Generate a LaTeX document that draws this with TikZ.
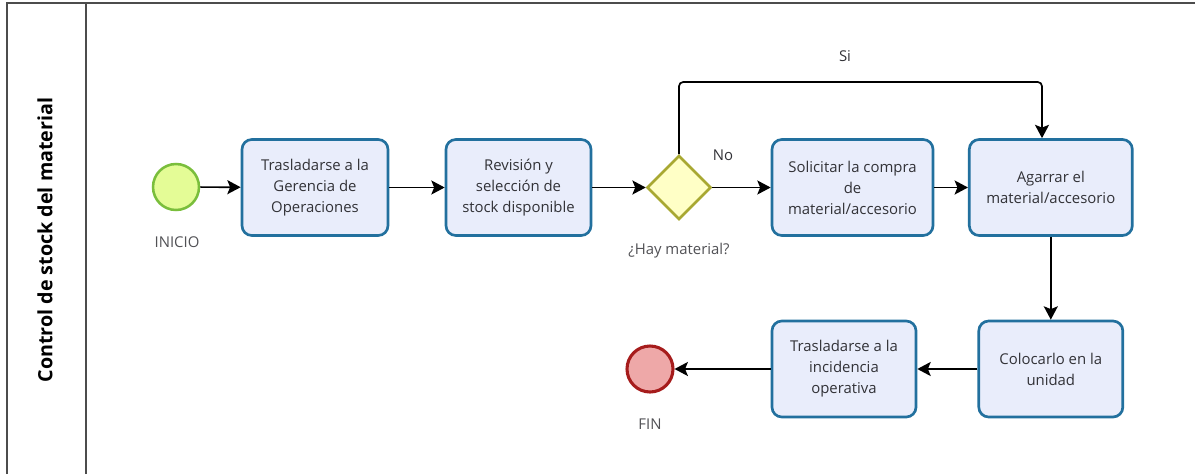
\documentclass[tikz,border=0pt]{standalone}
\usepackage{fontspec}
\setmainfont{Open Sans}
\usetikzlibrary{shapes.geometric,arrows.meta}

% kleuren van de BPMN-elementen
\definecolor{taakVul}{RGB}{233,237,251}
\definecolor{taakLijn}{RGB}{34,112,158}
\definecolor{startVul}{RGB}{228,252,150}
\definecolor{startLijn}{RGB}{122,190,60}
\definecolor{eindVul}{RGB}{238,168,168}
\definecolor{eindLijn}{RGB}{166,28,28}
\definecolor{poortVul}{RGB}{255,255,198}
\definecolor{poortLijn}{RGB}{168,168,50}
\definecolor{tekst}{RGB}{50,50,55}

\begin{document}
\begin{tikzpicture}[>={Stealth[length=9.5pt,width=10pt,inset=2pt]}]

% --- Global TikZ Styles for Consistency ---
\tikzset{
    task/.style={rectangle, rounded corners=7pt, fill=taakVul, draw=taakLijn,
        line width=1.9pt, minimum width=3.6cm, minimum height=2.4cm,
        align=center, text=tekst, font=\fontsize{10.6}{15}\selectfont},
    startev/.style={circle, fill=startVul, draw=startLijn, line width=1.8pt,
        minimum size=1.15cm, inner sep=0pt},
    endev/.style={circle, fill=eindVul, draw=eindLijn, line width=2.2pt,
        minimum size=1.15cm, inner sep=0pt},
    gate/.style={diamond, aspect=1, fill=poortVul, draw=poortLijn,
        line width=1.8pt, minimum size=1.6cm, inner sep=0pt},
    evlabel/.style={text=tekst!85, font=\fontsize{10.6}{13}\selectfont},
    flowlabel/.style={text=tekst, font=\fontsize{10.6}{13}\selectfont},
    pool/.style={draw=black!70, line width=1.2pt},
    arrow/.style={->, line width=1.2pt, draw=black}
}

\useasboundingbox (0,0) rectangle (29.875,11.85);

% --- Pool en lane ---
\draw[pool] (0.175,0) -- (0.175,11.775) -- (29.875,11.775);
\draw[pool] (2.15,0) -- (2.15,11.775);
\node[rotate=90, text=black, font=\bfseries\fontsize{14}{16}\selectfont] (lane) at (1.125,5.85) {Control de stock del material};

% --- Bovenste rij ---
\node[startev] (s1) at (4.4,7.175) {};
\node[evlabel] (s1lab) at (4.425,5.8) {INICIO};

\node[task, minimum width=3.65cm] (t1) at (7.875,7.1625) {Trasladarse a la\\Gerencia de\\Operaciones};
\node[task, minimum width=3.625cm] (t2) at (12.9625,7.1625) {Revisión y\\selección de\\stock disponible};

\node[gate] (d1) at (16.975,7.1625) {};
\node[evlabel] (d1lab) at (16.975,5.575) {¿Hay material?};

\node[task, minimum width=4.025cm] (t3) at (21.3125,7.1625) {Solicitar la compra\\de\\material/accesorio};
\node[task, minimum width=4.075cm] (t4) at (26.27,7.1625) {Agarrar el\\material/accesorio};

% --- Onderste rij ---
\node[task] (t5) at (26.27,2.625) {Colocarlo en la\\unidad};
\node[task] (t6) at (21.1,2.625) {Trasladarse a la\\incidencia\\operativa};

\node[endev] (e1) at (16.25,2.625) {};
\node[evlabel] (e1lab) at (16.25,1.25) {FIN};

% --- Pijlen ---
\draw[arrow] (s1) -- (t1);
\draw[arrow] (t1) -- (t2);
\draw[arrow] (t2) -- (d1);
\draw[arrow] (d1) -- (t3);
\node[flowlabel] (nolab) at (18.075,7.975) {No};
\draw[arrow] (t3) -- (t4);

% ja-tak: over de taken heen naar t4
\coordinate (lus) at (26.05,9.8);
\draw[arrow, rounded corners=3pt] (d1.north) |- (lus) -- (lus |- t4.north);
\node[flowlabel] (silab) at (21.125,10.45) {Si};

\draw[arrow] (t4) -- (t5);
\draw[arrow] (t5) -- (t6);
\draw[arrow] (t6) -- (e1);

\end{tikzpicture}
\end{document}
